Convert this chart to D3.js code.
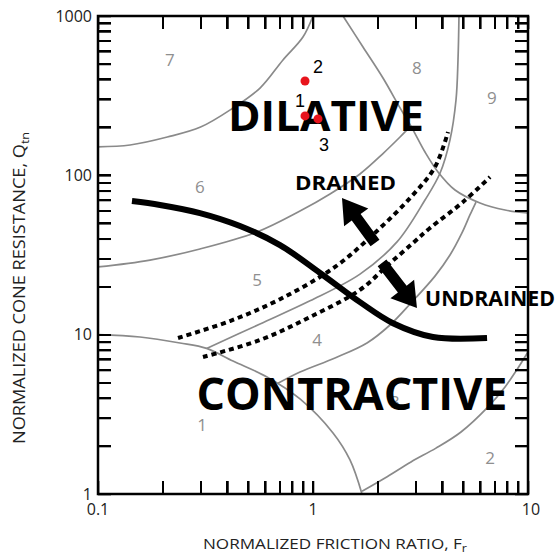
<!DOCTYPE html>
<html>
<head>
<meta charset="utf-8">
<script src="https://cdn.jsdelivr.net/npm/d3@7"></script>
<style>
  body { margin: 0; background: #fff; }
  svg { display: block; }
</style>
</head>
<body>
<svg id="chart" width="558" height="555"></svg>
<script>
// Axes
var frDomain = [0.1, 10];
var qtnDomain = [1, 1000];
var frTickLabels = [0.1, 1, 10];
var qtnTickLabels = [1, 10, 100, 1000];

// Soil behaviour type zone boundaries, [Fr, Qtn]
var bound67 = [[0.1, 151], [0.141, 155], [0.21, 174], [0.30, 201], [0.42, 262], [0.567, 353], [0.725, 530], [0.898, 738], [1.0, 1000]];
var bound56 = [[0.1, 26.6], [0.1745, 29.4], [0.298, 34.5], [0.549, 44.1], [0.87, 59.7], [1.2, 76.4], [1.654, 102], [2.116, 137], [2.54, 174], [2.83, 202]];
var bound89 = [[1.379, 1000], [1.708, 639], [2.116, 408], [2.54, 265], [2.888, 198], [3.318, 140], [3.814, 105], [4.576, 80.9], [5.98, 67.1], [7.82, 60.6], [10, 58]];
var bound45 = [[0.32, 8.2], [0.567, 11.67], [0.968, 16.3], [1.654, 24], [2.459, 38.2], [3.318, 70], [3.896, 103], [4.337, 167], [4.625, 297], [4.725, 530], [4.775, 1000]];
var bound34 = [[0.687, 4.95], [0.87, 5.83], [1.266, 7.14], [1.783, 8.87], [2.281, 11.5], [2.856, 15.8], [3.693, 23.3], [4.337, 31.6], [4.93, 43.5], [5.37, 56.4], [5.73, 68]];
var bound1 = [[0.1, 10], [0.1568, 9.67], [0.2406, 8.87], [0.32, 8.2], [0.4245, 6.83], [0.611, 5.43], [0.87, 3.95], [1.239, 2.415], [1.486, 1.635], [1.69, 1]];
var bound23 = [[1.69, 1.04], [2.162, 1.26], [2.856, 1.59], [3.733, 1.94], [4.88, 2.45], [6.45, 3.47], [7.82, 4.7], [8.985, 6.18], [10, 7.78]];
var zoneBounds = [bound67, bound56, bound89, bound45, bound34, bound1, bound23];

// Drained / undrained band (dashed) and contractive-dilative line
var drainedEdge = [[0.2356, 9.53], [0.4111, 12.18], [0.7023, 16.7], [1.266, 26.6], [2.006, 45.4], [2.856, 73.1], [3.693, 112.8], [4.245, 187]];
var undrainedEdge = [[0.3078, 7.24], [0.567, 9.26], [0.968, 12.9], [1.654, 19.1], [2.233, 27.4], [2.918, 37.6], [3.501, 46.7], [4.985, 68], [6.66, 97.6]];
var cdLine = [[0.1439, 69], [0.1943, 65.2], [0.298, 58], [0.4575, 48.1], [0.7023, 36.5], [1.078, 24.4], [1.654, 16], [2.356, 11.8], [3.614, 9.67], [6.45, 9.53]];

// Arrows: [tail, tip]
var arrowDrained = [[1.943, 37.6], [1.364, 72.1]];
var arrowUndrained = [[2.094, 28.2], [3.045, 14.7]];

// Zone numbers
var zoneLabels = ["1", "2", "3", "4", "5", "6", "7", "8", "9"];
var zoneFr = [0.3046, 6.66, 2.406, 1.044, 0.549, 0.298, 0.216, 3.045, 6.80];
var zoneQtn = [2.71, 1.68, 3.78, 9.26, 22.0, 84.5, 530, 472, 306];

// Test points
var pointLabels = ["1", "2", "3"];
var pointFr = [0.918, 0.918, 1.055];
var pointQtn = [236, 391, 226];

// Region captions
var captionText = ["DILATIVE", "CONTRACTIVE", "DRAINED", "UNDRAINED"];
var captionFr = [1.149, 1.518, 1.416, 6.66];
var captionQtn = [190, 3.37, 80.9, 15.1];

var svg = d3.select("#chart");
var plotLeft = 98, plotRight = 528, plotTop = 16, plotBottom = 494;

var x = d3.scaleLog().domain(frDomain).range([plotLeft, plotRight]);
var y = d3.scaleLog().domain(qtnDomain).range([plotBottom, plotTop]);

var lineGen = d3.line()
    .x(function (d) { return x(d[0]); })
    .y(function (d) { return y(d[1]); })
    .curve(d3.curveCatmullRom.alpha(0.5));

// zone boundaries
svg.append("g").selectAll("path")
    .data(zoneBounds)
    .enter()
    .append("path")
    .attr("d", lineGen)
    .attr("fill", "none")
    .attr("stroke", "#8a8a8a")
    .attr("stroke-width", 1.7);

// dashed band
svg.append("g").selectAll("path")
    .data([drainedEdge, undrainedEdge])
    .enter()
    .append("path")
    .attr("d", lineGen)
    .attr("fill", "none")
    .attr("stroke", "#000")
    .attr("stroke-width", 4)
    .attr("stroke-dasharray", "5,4");

// contractive / dilative boundary
svg.append("path")
    .attr("d", lineGen(cdLine))
    .attr("fill", "none")
    .attr("stroke", "#000")
    .attr("stroke-width", 6);

function arrowPath(a) {
    var x0 = x(a[0][0]), y0 = y(a[0][1]), x1 = x(a[1][0]), y1 = y(a[1][1]);
    var dx = x1 - x0, dy = y1 - y0, len = Math.sqrt(dx * dx + dy * dy);
    var ux = dx / len, uy = dy / len, nx = -uy, ny = ux;
    var headLen = 24, headW = 15, shaftW = 5.5;
    var bx = x1 - ux * headLen, by = y1 - uy * headLen;
    var pts = [
        [x0 + nx * shaftW, y0 + ny * shaftW],
        [bx + nx * shaftW, by + ny * shaftW],
        [bx + nx * headW, by + ny * headW],
        [x1, y1],
        [bx - nx * headW, by - ny * headW],
        [bx - nx * shaftW, by - ny * shaftW],
        [x0 - nx * shaftW, y0 - ny * shaftW]
    ];
    return "M" + pts.join("L") + "Z";
}

svg.append("g").selectAll("path")
    .data([arrowDrained, arrowUndrained])
    .enter()
    .append("path")
    .attr("d", arrowPath)
    .attr("fill", "#000");

// zone numbers
svg.append("g").selectAll("text")
    .data(zoneLabels)
    .enter()
    .append("text")
    .attr("x", function (d, i) { return x(zoneFr[i]); })
    .attr("y", function (d, i) { return y(zoneQtn[i]); })
    .attr("dy", "0.35em")
    .attr("text-anchor", "middle")
    .attr("font-family", "'Open Sans', sans-serif")
    .attr("font-size", "17px")
    .attr("fill", "#8f8f8f")
    .text(function (d) { return d; });

// region captions
var captionSize = [42, 44, 20, 21];
var captionWidth = [196, 311, 101, 130];
svg.append("g").selectAll("text")
    .data(captionText)
    .enter()
    .append("text")
    .attr("x", function (d, i) { return x(captionFr[i]); })
    .attr("y", function (d, i) { return y(captionQtn[i]); })
    .attr("text-anchor", "middle")
    .attr("font-family", "'Open Sans', sans-serif")
    .attr("font-weight", "bold")
    .attr("font-size", function (d, i) { return captionSize[i] + "px"; })
    .attr("textLength", function (d, i) { return captionWidth[i]; })
    .attr("lengthAdjust", "spacingAndGlyphs")
    .attr("fill", "#000")
    .text(function (d) { return d; });

// test points
svg.append("g").selectAll("circle")
    .data(pointLabels)
    .enter()
    .append("circle")
    .attr("cx", function (d, i) { return x(pointFr[i]); })
    .attr("cy", function (d, i) { return y(pointQtn[i]); })
    .attr("r", 4.5)
    .attr("fill", "#e8141c");

var labelDx = [-5, 13, 6], labelDy = [-9, -8, 32];
svg.append("g").selectAll("text")
    .data(pointLabels)
    .enter()
    .append("text")
    .attr("x", function (d, i) { return x(pointFr[i]) + labelDx[i]; })
    .attr("y", function (d, i) { return y(pointQtn[i]) + labelDy[i]; })
    .attr("text-anchor", "middle")
    .attr("font-family", "'Liberation Sans', Arial, sans-serif")
    .attr("font-size", "18px")
    .attr("fill", "#000")
    .text(function (d) { return d; });

// tick labels
svg.append("g").selectAll("text")
    .data(frTickLabels)
    .enter()
    .append("text")
    .attr("x", function (d) { return x(d) + (d === 10 ? 3 : 0); })
    .attr("y", plotBottom + 21)
    .attr("text-anchor", "middle")
    .attr("font-family", "'Open Sans', sans-serif")
    .attr("font-size", "16px")
    .attr("fill", "#222")
    .text(function (d) { return d; });

svg.append("g").selectAll("text")
    .data(qtnTickLabels)
    .enter()
    .append("text")
    .attr("x", plotLeft - 6)
    .attr("y", function (d) { return y(d); })
    .attr("dy", "0.36em")
    .attr("text-anchor", "end")
    .attr("font-family", "'Open Sans', sans-serif")
    .attr("font-size", "16px")
    .attr("fill", "#222")
    .text(function (d) { return d; });

// axis titles
var xTitle = svg.append("text")
    .attr("x", 335)
    .attr("y", 549)
    .attr("text-anchor", "middle")
    .attr("font-family", "'Open Sans', sans-serif")
    .attr("font-size", "15px")
    .attr("fill", "#222")
    .attr("textLength", 264)
    .attr("lengthAdjust", "spacingAndGlyphs");
xTitle.append("tspan").text("NORMALIZED FRICTION RATIO, F");
xTitle.append("tspan").attr("font-size", "11px").attr("dy", 3).text("r");

var yTitle = svg.append("text")
    .attr("transform", "translate(25,288) rotate(-90)")
    .attr("text-anchor", "middle")
    .attr("font-family", "'Open Sans', sans-serif")
    .attr("font-size", "16px")
    .attr("fill", "#222")
    .attr("textLength", 312)
    .attr("lengthAdjust", "spacingAndGlyphs");
yTitle.append("tspan").text("NORMALIZED CONE RESISTANCE, Q");
yTitle.append("tspan").attr("font-size", "11px").attr("dy", 4).text("tn");

// frame
svg.append("rect")
    .attr("x", plotLeft).attr("y", plotTop)
    .attr("width", plotRight - plotLeft).attr("height", plotBottom - plotTop)
    .attr("fill", "none")
    .attr("stroke", "#000")
    .attr("stroke-width", 2.5);

// inside ticks on all four sides, as small filled bars placed by the scales
var tickLen = 13, tickW = 2;
var frTicks = x.ticks();
var qtnTicks = y.ticks();
var tickG = svg.append("g")
    .attr("fill", "#000")
    .attr("shape-rendering", "crispEdges");

tickG.selectAll("rect.xb")
    .data(frTicks)
    .enter()
    .append("rect")
    .attr("class", "xb")
    .attr("x", function (d) { return Math.round(x(d)) - tickW / 2; })
    .attr("y", plotBottom - tickLen)
    .attr("width", tickW)
    .attr("height", tickLen);
tickG.selectAll("rect.xt")
    .data(frTicks)
    .enter()
    .append("rect")
    .attr("class", "xt")
    .attr("x", function (d) { return Math.round(x(d)) - tickW / 2; })
    .attr("y", plotTop)
    .attr("width", tickW)
    .attr("height", tickLen);
tickG.selectAll("rect.yl")
    .data(qtnTicks)
    .enter()
    .append("rect")
    .attr("class", "yl")
    .attr("x", plotLeft)
    .attr("y", function (d) { return Math.round(y(d)) - tickW / 2; })
    .attr("width", tickLen)
    .attr("height", tickW);
tickG.selectAll("rect.yr")
    .data(qtnTicks)
    .enter()
    .append("rect")
    .attr("class", "yr")
    .attr("x", plotRight - tickLen)
    .attr("y", function (d) { return Math.round(y(d)) - tickW / 2; })
    .attr("width", tickLen)
    .attr("height", tickW);

// the same ticks once more through d3's own axes, drawn on top
function tickStyle(g) {
    g.select(".domain").remove();
    g.selectAll(".tick line").attr("stroke", "#000").attr("stroke-width", 1.6);
}
svg.append("g").attr("transform", "translate(0," + plotBottom + ")")
    .call(d3.axisBottom(x).tickSize(-tickLen).tickFormat(function () { return ""; })).call(tickStyle);
svg.append("g").attr("transform", "translate(0," + plotTop + ")")
    .call(d3.axisTop(x).tickSize(-tickLen).tickFormat(function () { return ""; })).call(tickStyle);
svg.append("g").attr("transform", "translate(" + plotLeft + ",0)")
    .call(d3.axisLeft(y).tickSize(-tickLen).tickFormat(function () { return ""; })).call(tickStyle);
svg.append("g").attr("transform", "translate(" + plotRight + ",0)")
    .call(d3.axisRight(y).tickSize(-tickLen).tickFormat(function () { return ""; })).call(tickStyle);
</script>
</body>
</html>
